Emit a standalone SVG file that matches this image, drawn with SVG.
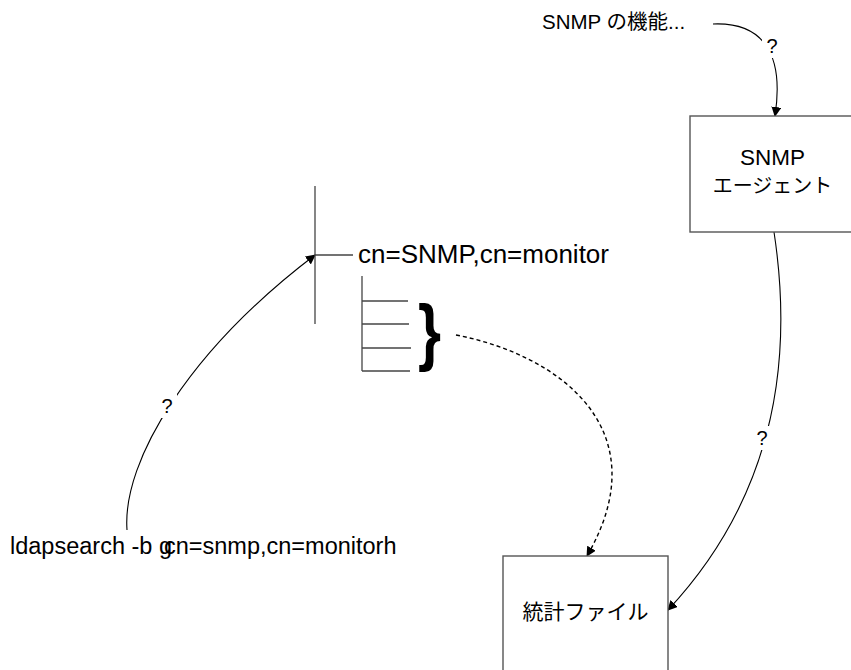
<svg xmlns="http://www.w3.org/2000/svg" width="851" height="670" viewBox="0 0 851 670">
<style>
  text { font-family: "Liberation Sans", "Noto Sans CJK JP", sans-serif; fill: #000; }
  .box { fill: #fff; stroke: #555; stroke-width: 1.4; }
  .tree { stroke: #444; stroke-width: 1.3; fill: none; }
  .conn { fill: none; stroke: #000; stroke-width: 1.1; }
  .dash { stroke-dasharray: 4 3; stroke-width: 1.4; }
  .lbl { font-size: 20px; text-anchor: middle; }
  .lblbg { fill: #fff; stroke: none; }
</style>
<defs>
  <marker id="arr" viewBox="0 0 10 10" refX="9" refY="5" markerWidth="10" markerHeight="10" markerUnits="userSpaceOnUse" orient="auto">
    <path d="M0,0 L10,5 L0,10 z" fill="#000" stroke="none"/>
  </marker>
</defs>

<g id="connectors">
  <path class="conn" d="M713,24 C760,22 785,50 775,116" marker-end="url(#arr)"/>
  <path class="conn" d="M127,530 C122,460 190,350 315,255" marker-end="url(#arr)"/>
  <path class="conn" d="M774,232 C792,350 780,490 668,610" marker-end="url(#arr)"/>
  <path class="conn dash" d="M456,335 C560,355 660,430 587,556" marker-end="url(#arr)"/>
  <rect class="lblbg" x="762" y="34" width="20" height="24"/>
  <text class="lbl" x="772" y="53">?</text>
  <rect class="lblbg" x="157" y="394" width="20" height="24"/>
  <text class="lbl" x="167" y="413">?</text>
  <rect class="lblbg" x="752" y="426" width="20" height="24"/>
  <text class="lbl" x="762" y="445">?</text>
</g>

<g id="snmp-func">
  <text x="542" y="29" font-size="20.5">SNMP の機能...</text>
</g>

<g id="snmp-agent">
  <rect class="box" x="690" y="116" width="165" height="116"/>
  <text x="772.5" y="165" font-size="22.5" text-anchor="middle">SNMP</text>
  <text x="772.5" y="193" font-size="20" text-anchor="middle">エージェント</text>
</g>

<g id="stats-file">
  <rect class="box" x="503" y="556" width="165" height="116"/>
  <text x="585.5" y="619" font-size="21" text-anchor="middle">統計ファイル</text>
</g>

<g id="tree">
  <line class="tree" x1="315" y1="186" x2="315" y2="324"/>
  <line class="tree" x1="315" y1="255" x2="353" y2="255"/>
  <text x="358" y="263" font-size="26">cn=SNMP,cn=monitor</text>
  <line class="tree" x1="362" y1="276" x2="362" y2="371"/>
  <line class="tree" x1="362" y1="301" x2="408" y2="301"/>
  <line class="tree" x1="362" y1="324" x2="409" y2="324"/>
  <line class="tree" x1="362" y1="348" x2="411" y2="348"/>
  <line class="tree" x1="362" y1="371" x2="410" y2="371"/>
  <text transform="translate(418,357) scale(0.8,1)" font-size="74" font-weight="bold">}</text>
</g>

<g id="ldapsearch">
  <text x="10" y="554" font-size="23.5">ldapsearch -b g<tspan dx="-8">cn=snmp,cn=monitorh</tspan></text>
</g>
</svg>
